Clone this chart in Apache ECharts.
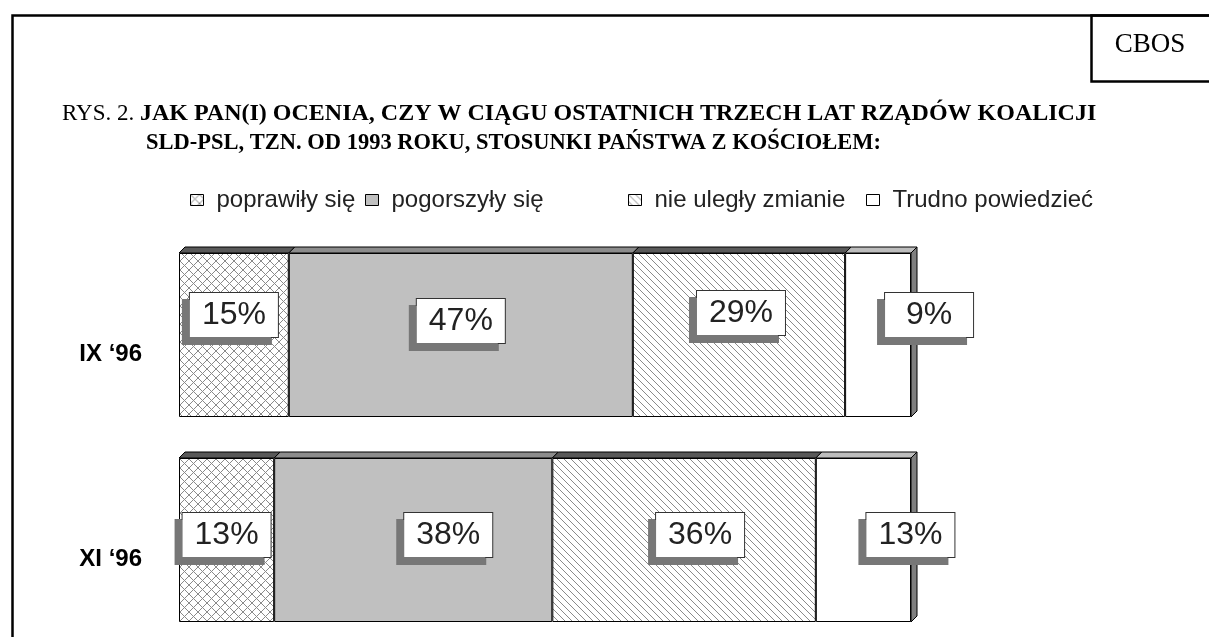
<!DOCTYPE html>
<html>
<head>
<meta charset="utf-8">
<script src="https://cdn.jsdelivr.net/npm/echarts@6/dist/echarts.min.js"></script>
<style>html,body{margin:0;padding:0;background:#fff}#c{width:1209px;height:637px}</style>
</head>
<body>
<div id="c"></div>
<script>
// ---- data ----
const categories = ['IX ‘96', 'XI ‘96'];
const seriesNames = ['poprawiły się', 'pogorszyły się', 'nie uległy zmianie', 'Trudno powiedzieć'];
const poprawily = [15, 13];
const pogorszyly = [47, 38];
const nieUlegly = [29, 36];
const trudno = [9, 13];
const titleLead = 'RYS. 2. ';
const titleLine1 = 'JAK PAN(I) OCENIA, CZY W CIĄGU OSTATNICH TRZECH LAT RZĄDÓW KOALICJI';
const titleLine2 = 'SLD-PSL, TZN. OD 1993 ROKU, STOSUNKI PAŃSTWA Z KOŚCIOŁEM:';
const sourceLabel = 'CBOS';

// ---- styles ----
const BAR_W = 164, DEPTH = 6;
const labelOffsets = [
  [[0, -20], [0, -14], [2, -22], [51, -20]],
  [[0, -5], [35, -5], [16, -5], [47, -5]]
];
const topColors = ['#595959', '#8c8c8c', '#595959', '#bdbdbd'];

function makePattern(kind) {
  const s = kind === 'cross' ? 9 : 7;
  const c = document.createElement('canvas');
  c.width = s; c.height = s;
  const g = c.getContext('2d');
  g.fillStyle = '#ffffff'; g.fillRect(0, 0, s, s);
  g.strokeStyle = '#8a8a8a'; g.lineWidth = 1;
  g.beginPath();
  g.moveTo(-1, -1); g.lineTo(s + 1, s + 1);
  if (kind === 'cross') { g.moveTo(s + 1, -1); g.lineTo(-1, s + 1); }
  g.stroke();
  return { image: c, repeat: 'repeat' };
}
const fills = [makePattern('cross'), '#c0c0c0', makePattern('diag'), '#ffffff'];
const allValues = [poprawily, pogorszyly, nieUlegly, trudno];

const chart = echarts.init(document.getElementById('c'));

const barSeries = seriesNames.map((name, si) => ({
  name, type: 'bar', stack: 'total', barWidth: BAR_W,
  itemStyle: { color: fills[si], borderColor: '#000', borderWidth: 1 },
  emphasis: { disabled: true },
  data: allValues[si].map((v, ci) => ({
    value: v,
    label: { offset: labelOffsets[ci][si] }
  })),
  label: {
    show: true, position: 'inside', formatter: '{c}%',
    fontFamily: 'Liberation Sans, Arial', fontSize: 32, color: '#222',
    width: 66, align: 'center',
    backgroundColor: '#fff', borderColor: '#333', borderWidth: 1,
    padding: [7, 11, 5, 11],
    shadowColor: '#777', shadowBlur: 0, shadowOffsetX: -7, shadowOffsetY: 7
  },
  z: 3
}));

const deco = {
  type: 'custom', silent: true, z: 2,
  encode: { x: 1, y: 0 },
  data: categories.map((c, ci) => [ci].concat(allValues.map(a => a[ci]))),
  renderItem(params, api) {
    const ci = api.value(0);
    const yc = api.coord([0, ci])[1];
    const top = yc - BAR_W / 2, bottom = yc + BAR_W / 2;
    const kids = [];
    let cum = 0;
    for (let j = 0; j < 4; j++) {
      const v = api.value(j + 1);
      const x0 = api.coord([cum, ci])[0];
      cum += v;
      const x1 = api.coord([cum, ci])[0];
      kids.push({ type: 'polygon', shape: { points: [[x0, top], [x0 + DEPTH, top - DEPTH], [x1 + DEPTH, top - DEPTH], [x1, top]] },
        style: { fill: topColors[j], stroke: '#000', lineWidth: 1 } });
    }
    const xe = api.coord([cum, ci])[0];
    kids.push({ type: 'polygon', shape: { points: [[xe, top], [xe + DEPTH, top - DEPTH], [xe + DEPTH, bottom - DEPTH], [xe, bottom]] },
      style: { fill: '#7f7f7f', stroke: '#000', lineWidth: 1 } });
    return { type: 'group', children: kids };
  }
};

const legendX = [190, 365, 628, 866];
const option = {
  animation: false,
  backgroundColor: '#fff',
  title: [
    { left: 62, top: 102, padding: 0, text: '{a|' + titleLead + '}{b|' + titleLine1 + '}',
      textStyle: { rich: {
        a: { fontFamily: 'Liberation Serif', fontSize: 23, fontWeight: 'normal', color: '#000' },
        b: { fontFamily: 'Liberation Serif', fontSize: 24, fontWeight: 'bold', color: '#000' } } } },
    { left: 146, top: 132, padding: 0, text: titleLine2,
      textStyle: { fontFamily: 'Liberation Serif', fontSize: 22.5, fontWeight: 'bold', color: '#000' } },
    { left: 1150, top: 31, padding: 0, textAlign: 'center', text: sourceLabel,
      textStyle: { fontFamily: 'Liberation Serif', fontSize: 27, fontWeight: 'normal', color: '#000' } }
  ],
  legend: seriesNames.map((n, i) => ({
    data: [n], left: legendX[i], top: 188, padding: 0, itemWidth: 13, itemHeight: 11,
    icon: 'rect', selectedMode: false,
    itemStyle: { borderColor: '#000', borderWidth: 1 },
    textStyle: { fontFamily: 'Liberation Sans, Arial', fontSize: 24, color: '#222', padding: [0, 0, 0, 8] }
  })),
  grid: { left: 179, width: 732, top: 335, height: 205, containLabel: false },
  xAxis: { type: 'value', min: 0, max: 100, show: false },
  yAxis: {
    type: 'category', data: categories, inverse: true, boundaryGap: false,
    axisLine: { show: false }, axisTick: { show: false }, splitLine: { show: false },
    axisLabel: { margin: 37, fontFamily: 'Liberation Sans, Arial', fontWeight: 'bold', fontSize: 24, color: '#000',
      verticalAlign: 'top', lineHeight: 38 }
  },
  series: barSeries.concat([deco]),
  graphic: [
    { type: 'rect', left: 10, top: 13, shape: { width: 1300, height: 700 }, style: { fill: null, stroke: '#000', lineWidth: 2.5 }, silent: true, z: 100 },
    { type: 'rect', left: 1089, top: 13, shape: { width: 200, height: 66 }, style: { fill: null, stroke: '#000', lineWidth: 2.5 }, silent: true, z: 100 }
  ]
};
chart.setOption(option);
</script>
</body>
</html>
